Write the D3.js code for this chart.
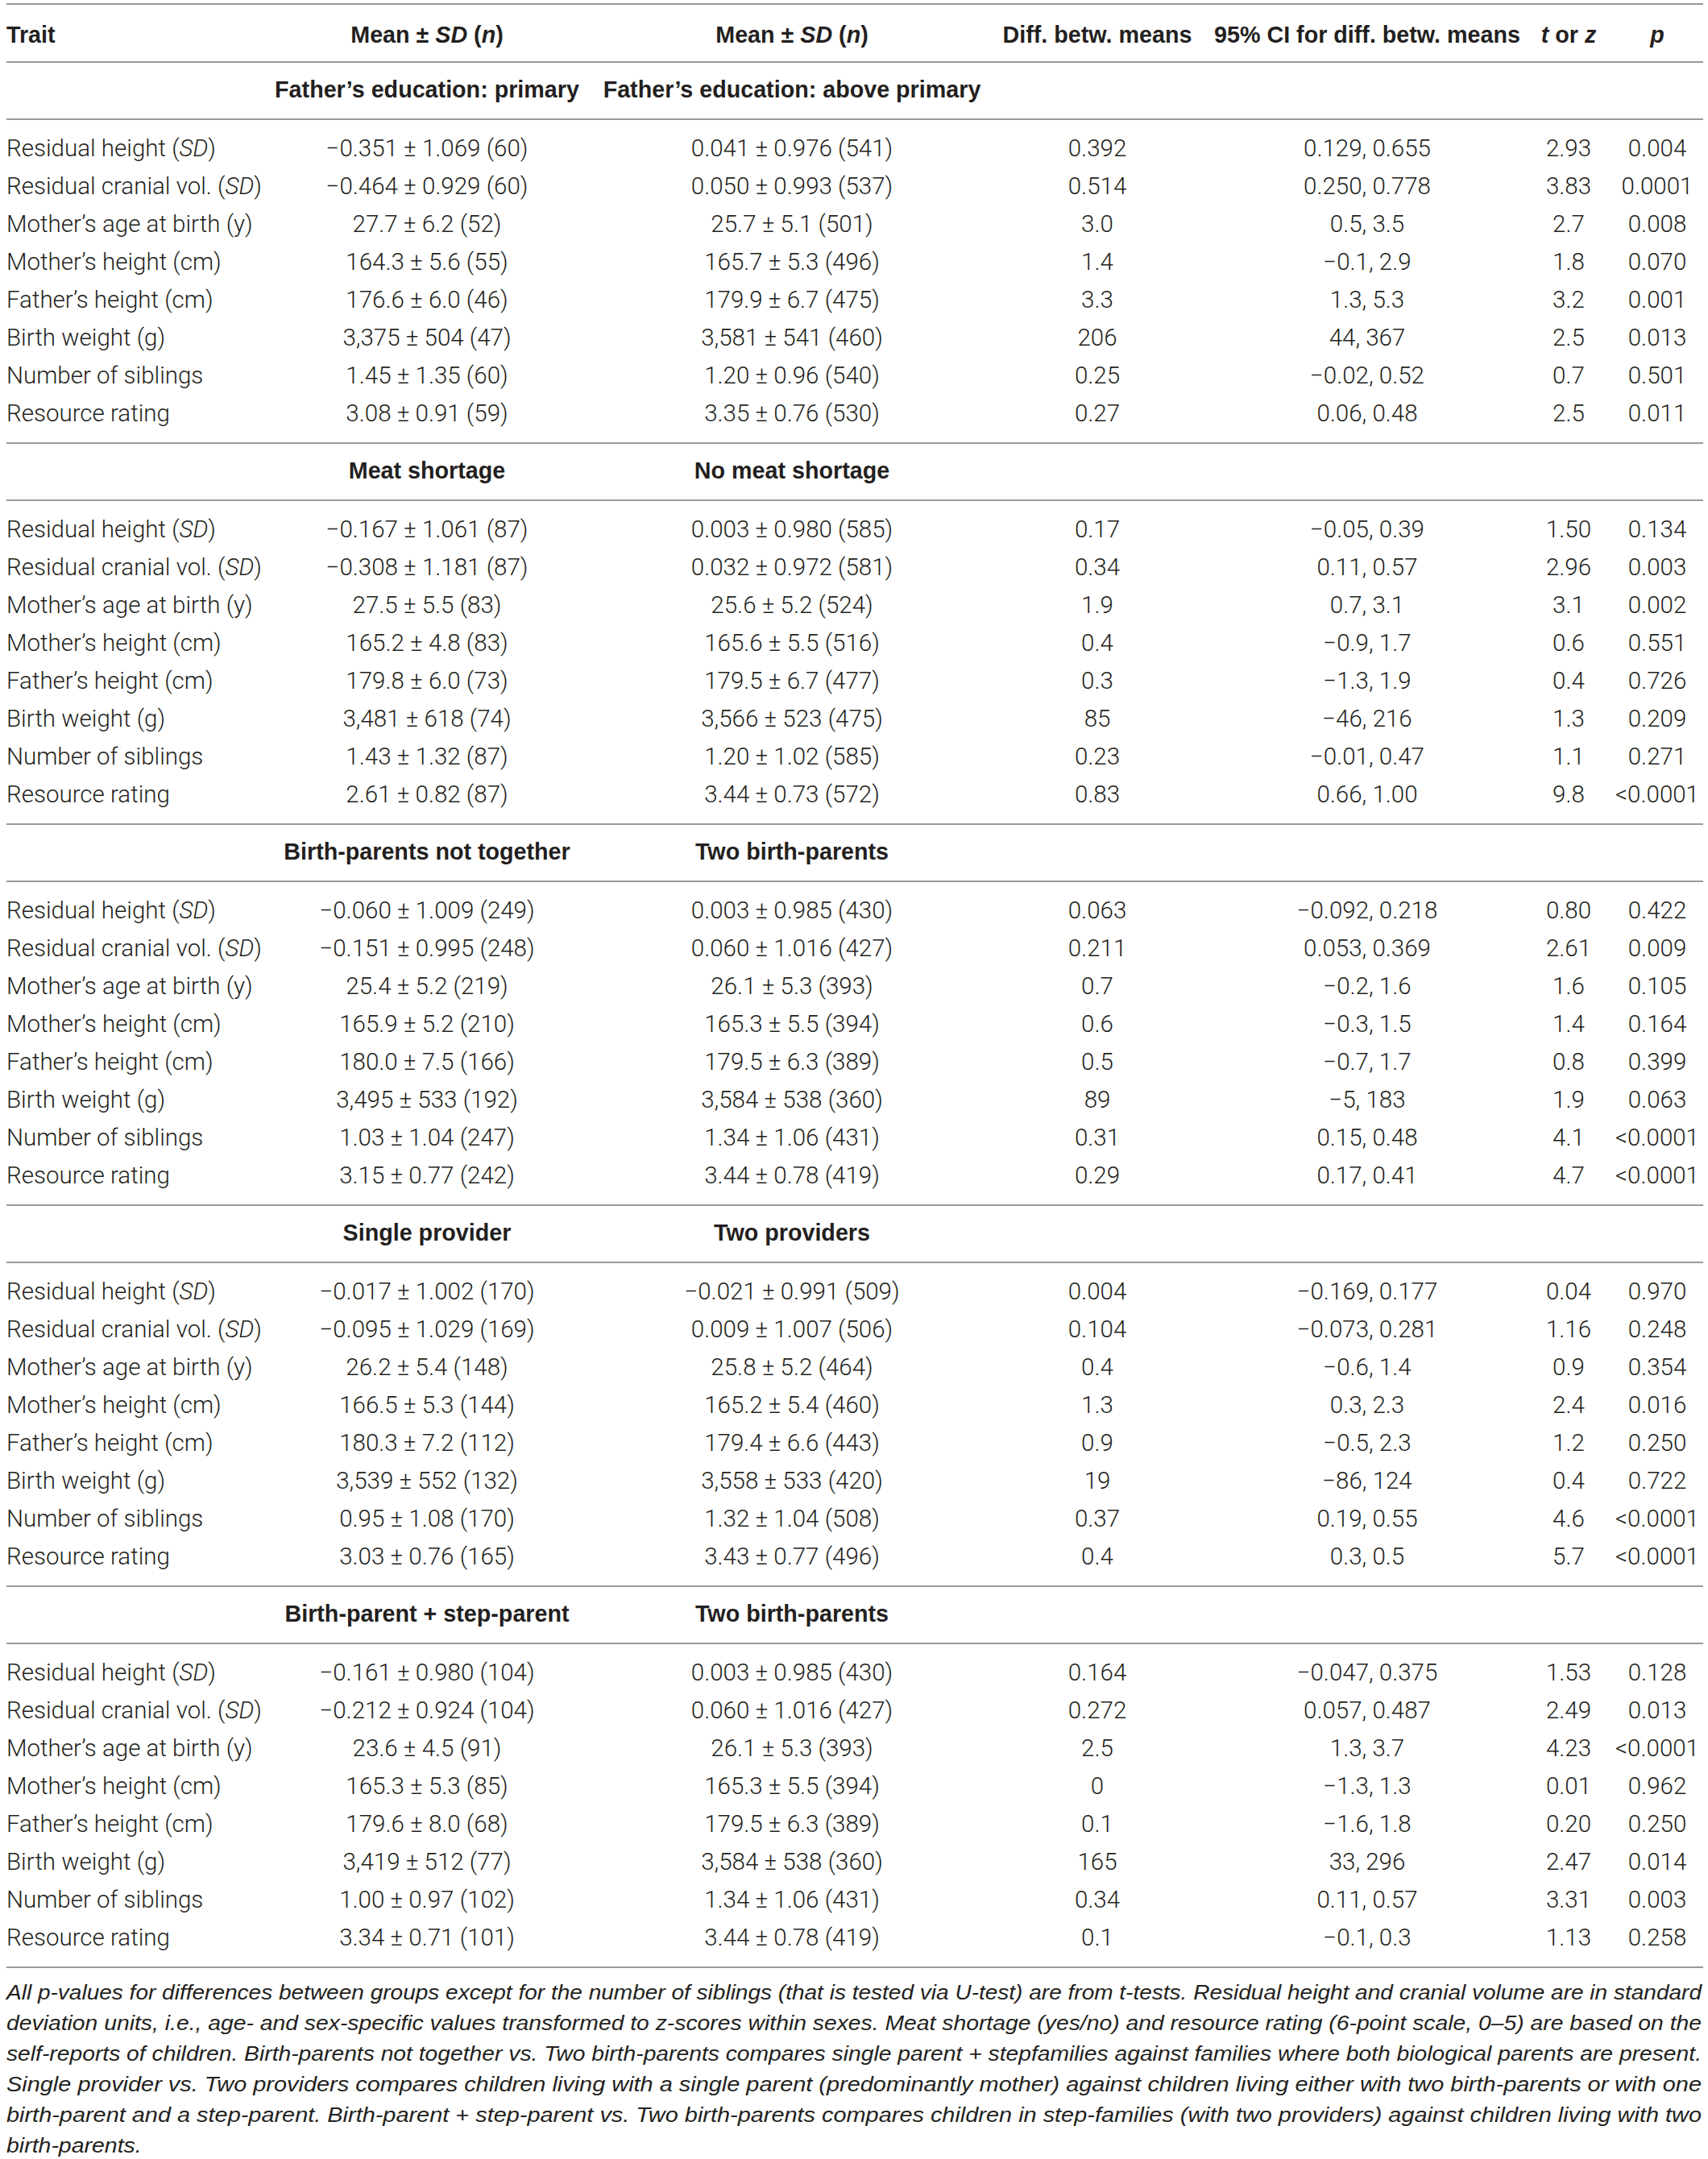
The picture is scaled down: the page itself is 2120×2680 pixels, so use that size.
<!DOCTYPE html>
<html>
<head>
<meta charset="utf-8">
<script src="https://cdn.jsdelivr.net/npm/d3@7"></script>
<style>
  html, body { margin: 0; padding: 0; background: #fff; }
  svg text { fill: #231f20; }
</style>
</head>
<body>
<div id="table"></div>
<script>
// ---- data ----
const columnHeads = ['Trait', 'Mean ± *SD* (*n*)', 'Mean ± *SD* (*n*)', 'Diff. betw. means',
  '95% CI for diff. betw. means', '*t* or *z*', '*p*'];

const traits = ['Residual height (*SD*)', 'Residual cranial vol. (*SD*)', 'Mother’s age at birth (y)',
  'Mother’s height (cm)', 'Father’s height (cm)', 'Birth weight (g)', 'Number of siblings', 'Resource rating'];

const groupA = ['Father’s education: primary', 'Meat shortage', 'Birth-parents not together',
  'Single provider', 'Birth-parent + step-parent'];
const groupB = ['Father’s education: above primary', 'No meat shortage', 'Two birth-parents',
  'Two providers', 'Two birth-parents'];

const meanA = [
  ['−0.351 ± 1.069 (60)', '−0.464 ± 0.929 (60)', '27.7 ± 6.2 (52)', '164.3 ± 5.6 (55)', '176.6 ± 6.0 (46)', '3,375 ± 504 (47)', '1.45 ± 1.35 (60)', '3.08 ± 0.91 (59)'],
  ['−0.167 ± 1.061 (87)', '−0.308 ± 1.181 (87)', '27.5 ± 5.5 (83)', '165.2 ± 4.8 (83)', '179.8 ± 6.0 (73)', '3,481 ± 618 (74)', '1.43 ± 1.32 (87)', '2.61 ± 0.82 (87)'],
  ['−0.060 ± 1.009 (249)', '−0.151 ± 0.995 (248)', '25.4 ± 5.2 (219)', '165.9 ± 5.2 (210)', '180.0 ± 7.5 (166)', '3,495 ± 533 (192)', '1.03 ± 1.04 (247)', '3.15 ± 0.77 (242)'],
  ['−0.017 ± 1.002 (170)', '−0.095 ± 1.029 (169)', '26.2 ± 5.4 (148)', '166.5 ± 5.3 (144)', '180.3 ± 7.2 (112)', '3,539 ± 552 (132)', '0.95 ± 1.08 (170)', '3.03 ± 0.76 (165)'],
  ['−0.161 ± 0.980 (104)', '−0.212 ± 0.924 (104)', '23.6 ± 4.5 (91)', '165.3 ± 5.3 (85)', '179.6 ± 8.0 (68)', '3,419 ± 512 (77)', '1.00 ± 0.97 (102)', '3.34 ± 0.71 (101)']
];
const meanB = [
  ['0.041 ± 0.976 (541)', '0.050 ± 0.993 (537)', '25.7 ± 5.1 (501)', '165.7 ± 5.3 (496)', '179.9 ± 6.7 (475)', '3,581 ± 541 (460)', '1.20 ± 0.96 (540)', '3.35 ± 0.76 (530)'],
  ['0.003 ± 0.980 (585)', '0.032 ± 0.972 (581)', '25.6 ± 5.2 (524)', '165.6 ± 5.5 (516)', '179.5 ± 6.7 (477)', '3,566 ± 523 (475)', '1.20 ± 1.02 (585)', '3.44 ± 0.73 (572)'],
  ['0.003 ± 0.985 (430)', '0.060 ± 1.016 (427)', '26.1 ± 5.3 (393)', '165.3 ± 5.5 (394)', '179.5 ± 6.3 (389)', '3,584 ± 538 (360)', '1.34 ± 1.06 (431)', '3.44 ± 0.78 (419)'],
  ['−0.021 ± 0.991 (509)', '0.009 ± 1.007 (506)', '25.8 ± 5.2 (464)', '165.2 ± 5.4 (460)', '179.4 ± 6.6 (443)', '3,558 ± 533 (420)', '1.32 ± 1.04 (508)', '3.43 ± 0.77 (496)'],
  ['0.003 ± 0.985 (430)', '0.060 ± 1.016 (427)', '26.1 ± 5.3 (393)', '165.3 ± 5.5 (394)', '179.5 ± 6.3 (389)', '3,584 ± 538 (360)', '1.34 ± 1.06 (431)', '3.44 ± 0.78 (419)']
];
const diffs = [
  ['0.392', '0.514', '3.0', '1.4', '3.3', '206', '0.25', '0.27'],
  ['0.17', '0.34', '1.9', '0.4', '0.3', '85', '0.23', '0.83'],
  ['0.063', '0.211', '0.7', '0.6', '0.5', '89', '0.31', '0.29'],
  ['0.004', '0.104', '0.4', '1.3', '0.9', '19', '0.37', '0.4'],
  ['0.164', '0.272', '2.5', '0', '0.1', '165', '0.34', '0.1']
];
const ci95 = [
  ['0.129, 0.655', '0.250, 0.778', '0.5, 3.5', '−0.1, 2.9', '1.3, 5.3', '44, 367', '−0.02, 0.52', '0.06, 0.48'],
  ['−0.05, 0.39', '0.11, 0.57', '0.7, 3.1', '−0.9, 1.7', '−1.3, 1.9', '−46, 216', '−0.01, 0.47', '0.66, 1.00'],
  ['−0.092, 0.218', '0.053, 0.369', '−0.2, 1.6', '−0.3, 1.5', '−0.7, 1.7', '−5, 183', '0.15, 0.48', '0.17, 0.41'],
  ['−0.169, 0.177', '−0.073, 0.281', '−0.6, 1.4', '0.3, 2.3', '−0.5, 2.3', '−86, 124', '0.19, 0.55', '0.3, 0.5'],
  ['−0.047, 0.375', '0.057, 0.487', '1.3, 3.7', '−1.3, 1.3', '−1.6, 1.8', '33, 296', '0.11, 0.57', '−0.1, 0.3']
];
const tValues = [
  ['2.93', '3.83', '2.7', '1.8', '3.2', '2.5', '0.7', '2.5'],
  ['1.50', '2.96', '3.1', '0.6', '0.4', '1.3', '1.1', '9.8'],
  ['0.80', '2.61', '1.6', '1.4', '0.8', '1.9', '4.1', '4.7'],
  ['0.04', '1.16', '0.9', '2.4', '1.2', '0.4', '4.6', '5.7'],
  ['1.53', '2.49', '4.23', '0.01', '0.20', '2.47', '3.31', '1.13']
];
const pValues = [
  ['0.004', '0.0001', '0.008', '0.070', '0.001', '0.013', '0.501', '0.011'],
  ['0.134', '0.003', '0.002', '0.551', '0.726', '0.209', '0.271', '<0.0001'],
  ['0.422', '0.009', '0.105', '0.164', '0.399', '0.063', '<0.0001', '<0.0001'],
  ['0.970', '0.248', '0.354', '0.016', '0.250', '0.722', '<0.0001', '<0.0001'],
  ['0.128', '0.013', '<0.0001', '0.962', '0.250', '0.014', '0.003', '0.258']
];

const footnote = [
  'All p-values for differences between groups except for the number of siblings (that is tested via U-test) are from t-tests. Residual height and cranial volume are in standard',
  'deviation units, i.e., age- and sex-specific values transformed to z-scores within sexes. Meat shortage (yes/no) and resource rating (6-point scale, 0–5) are based on the',
  'self-reports of children. Birth-parents not together vs. Two birth-parents compares single parent + stepfamilies against families where both biological parents are present.',
  'Single provider vs. Two providers compares children living with a single parent (predominantly mother) against children living either with two birth-parents or with one',
  'birth-parent and a step-parent. Birth-parent + step-parent vs. Two birth-parents compares children in step-families (with two providers) against children living with two',
  'birth-parents.'
];

// ---- layout ----
const width = 2120, height = 2680;
const bodyFont = 'Roboto, "Liberation Sans", sans-serif';
const headFont = '"Liberation Sans", Arial, sans-serif';
const bodySize = 29.5;
const headSize = 28.7;
const ruleColor = '#9a9a9a';

const svg = d3.select('#table').append('svg')
  .attr('width', width).attr('height', height);

// column centres (first column is left aligned)
const colX = d3.scaleOrdinal()
  .domain(['trait', 'meanA', 'meanB', 'diff', 'ci', 't', 'p'])
  .range([8, 530, 983, 1362, 1697, 1947, 2057]);
const colB_left = 724;

// section tops and rows inside a section
const sectionIdx = d3.range(groupA.length);
const sectionTop = d3.scaleLinear().domain([0, 1]).range([77, 77 + 473]);
const rowY = d3.scaleLinear().domain([0, 1]).range([106, 106 + 47.1]);

// write a string with *italic* parts as tspans
function richText(sel, str){
  const parts = str.split('*');
  parts.forEach((p, i) => {
    if (p === '') return;
    sel.append('tspan')
      .style('font-style', i % 2 === 1 ? 'italic' : null)
      .text(p);
  });
}

function rule(y){
  svg.append('line')
    .attr('x1', 8).attr('x2', 2114)
    .attr('y1', y).attr('y2', y)
    .attr('stroke', ruleColor)
    .attr('stroke-width', 2);
}

// Header row
rule(5);
const head = svg.append('g')
  .attr('font-family', headFont)
  .attr('font-size', headSize)
  .attr('font-weight', 700);
columnHeads.forEach((h, i) => {
  const key = colX.domain()[i];
  const t = head.append('text')
    .attr('x', colX(key))
    .attr('y', 43)
    .attr('dy', '0.36em')
    .attr('text-anchor', i === 0 ? 'start' : 'middle');
  richText(t, h);
});

// Sections
sectionIdx.forEach(s => {
  const top = sectionTop(s);
  rule(top);
  rule(top + 71);

  const g = svg.append('g');

  // group labels
  const gy = top + 34;
  const labels = g.append('g')
    .attr('font-family', headFont)
    .attr('font-size', headSize)
    .attr('font-weight', 700);
  labels.append('text')
    .attr('x', colX('meanA'))
    .attr('y', gy).attr('dy', '0.36em')
    .attr('text-anchor', 'middle')
    .text(groupA[s]);
  const gb = labels.append('text')
    .attr('y', gy).attr('dy', '0.36em')
    .attr('text-anchor', 'start')
    .text(groupB[s]);
  const w = gb.node().getComputedTextLength();
  gb.attr('x', Math.max(colB_left, colX('meanB') - w / 2));

  // rows
  const body = g.append('g')
    .attr('font-family', bodyFont)
    .attr('font-size', bodySize)
    .attr('font-weight', 300);
  const cols = [
    ['meanA', meanA[s]], ['meanB', meanB[s]], ['diff', diffs[s]],
    ['ci', ci95[s]], ['t', tValues[s]], ['p', pValues[s]]
  ];
  traits.forEach((tr, r) => {
    const y = top + rowY(r);
    const lbl = body.append('text')
      .attr('x', colX('trait'))
      .attr('y', y).attr('dy', '0.36em');
    richText(lbl, tr);
    cols.forEach(([key, vals]) => {
      body.append('text')
        .attr('x', colX(key))
        .attr('y', y).attr('dy', '0.36em')
        .attr('text-anchor', 'middle')
        .text(vals[r]);
    });
  });
});
rule(sectionTop(groupA.length));

// Footnote, justified to the table width
const footY = d3.scaleLinear().domain([0, 1]).range([2473, 2473 + 38]);
const foot = svg.append('g')
  .attr('font-family', '"Liberation Sans Narrow", "Liberation Sans", sans-serif')
  .attr('font-size', 25)
  .attr('font-style', 'italic');
const ratios = [];
footnote.forEach((line, i) => {
  const t = foot.append('text')
    .attr('x', 8)
    .attr('y', footY(i)).attr('dy', '0.36em')
    .text(line);
  const natural = t.node().getComputedTextLength();
  if (i < footnote.length - 1) {
    ratios.push(2104 / natural);
    t.attr('textLength', 2104).attr('lengthAdjust', 'spacingAndGlyphs');
  } else {
    t.attr('textLength', natural * d3.mean(ratios)).attr('lengthAdjust', 'spacingAndGlyphs');
  }
});
</script>
</body>
</html>
